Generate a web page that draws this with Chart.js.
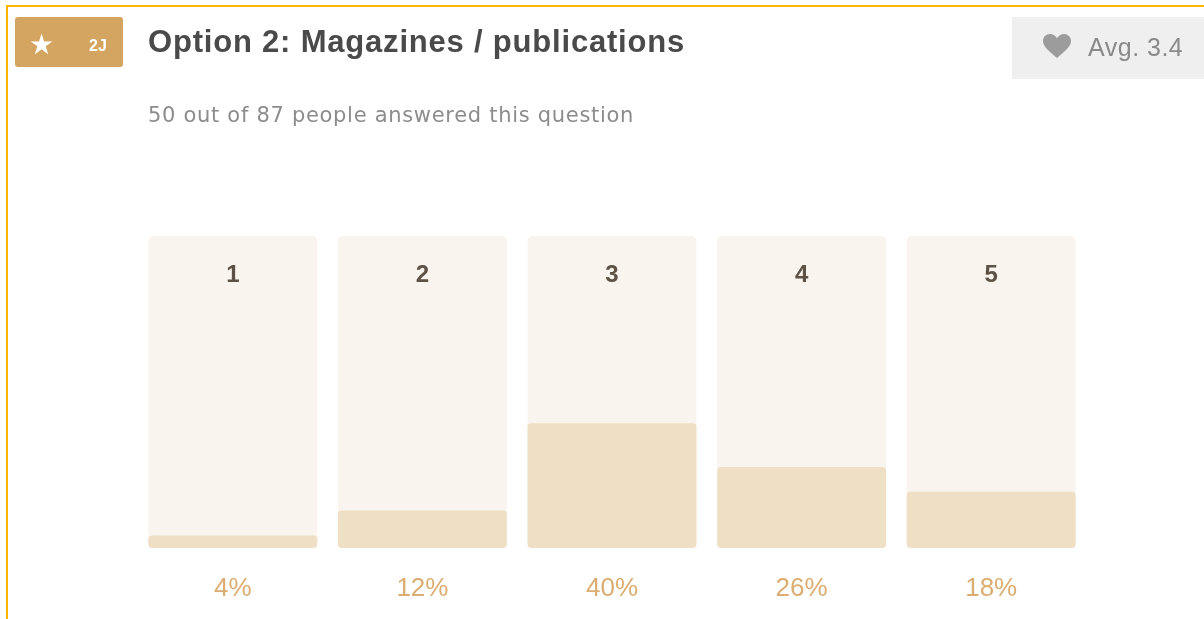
<!DOCTYPE html>
<html>
<head>
<meta charset="utf-8">
<script src="https://cdn.jsdelivr.net/npm/chart.js@4"></script>
<style>
  html, body { margin: 0; padding: 0; background: #fff; }
  body { width: 1204px; height: 619px; position: relative; overflow: hidden; font-family: "Liberation Sans", Arial, sans-serif; }
  #frame { position: absolute; left: 6px; top: 5px; width: 1300px; height: 700px; border-left: 2px solid #ffb400; border-top: 2px solid #ffb400; }
  #chartWrap { position: absolute; left: 0; top: 0; width: 1204px; height: 619px; }
  .badge { position: absolute; left: 15px; top: 17px; width: 108px; height: 50px; background: #d4a560; border-radius: 3px; color: #fff; }
  .badge .star { position: absolute; left: 14px; top: 13px; font-size: 28px; line-height: 30px; }
  .badge .num { position: absolute; left: 74px; top: 20px; font-size: 16px; font-weight: bold; line-height: 18px; }
  .title { position: absolute; left: 148px; top: 23px; font-size: 31px; font-weight: bold; color: #4a4a4a; line-height: 38px; letter-spacing: 0.8px; }
  .sub { position: absolute; left: 148px; top: 101px; font-family: "DejaVu Sans", sans-serif; font-size: 21px; color: #8c8c8c; line-height: 28px; letter-spacing: 0.7px; }
  .avg { position: absolute; left: 1012px; top: 17px; width: 200px; height: 62px; background: #efefef; color: #8a8a8a; }
  .avg svg { position: absolute; left: 31px; top: 17px; }
  .avg .txt { position: absolute; left: 76px; top: 15px; font-size: 25px; line-height: 30px; letter-spacing: 0.5px; }
</style>
</head>
<body>
<div id="chartWrap"><canvas id="barChart" width="1204" height="619"></canvas></div>
<div id="frame"></div>
<div class="badge"><span class="star">★</span><span class="num">2J</span></div>
<div class="title">Option 2: Magazines / publications</div>
<div class="sub">50 out of 87 people answered this question</div>
<div class="avg">
  <svg width="28" height="25" viewBox="0 0 28 25"><path d="M14 24 C6 17 0 12.5 0 7 C0 3 3 0 7 0 C10 0 12.5 1.8 14 4.2 C15.5 1.8 18 0 21 0 C25 0 28 3 28 7 C28 12.5 22 17 14 24 Z" fill="#9c9c9c"/></svg>
  <span class="txt">Avg. 3.4</span>
</div>
<script>
// ─── DATA ───
const RATINGS = ['1', '2', '3', '4', '5'];
const PERCENTS = [4, 12, 40, 26, 18];
const TRACK = [100, 100, 100, 100, 100];

// draws rating inside the track and percentage beneath it
const labelPlugin = {
  id: 'ratingLabels',
  afterDatasetsDraw(chart) {
    const { ctx, scales: { x, y } } = chart;
    ctx.save();
    ctx.textAlign = 'center';
    ctx.textBaseline = 'middle';
    RATINGS.forEach((r, i) => {
      const cx = x.getPixelForValue(i);
      ctx.font = 'bold 24px "Liberation Sans", Arial, sans-serif';
      ctx.fillStyle = '#5e5246';
      ctx.fillText(r, cx, y.getPixelForValue(100) + 39);
      ctx.font = '26px "Liberation Sans", Arial, sans-serif';
      ctx.fillStyle = '#dcad70';
      ctx.fillText(PERCENTS[i] + '%', cx, y.getPixelForValue(0) + 41);
    });
    ctx.restore();
  },
};

new Chart(document.getElementById('barChart').getContext('2d'), {
  type: 'bar',
  data: {
    labels: RATINGS,
    datasets: [
      { label: 'Share', data: PERCENTS, backgroundColor: '#efdfc5', borderRadius: 4, borderSkipped: false, order: 0 },
      { label: 'Track', data: TRACK, backgroundColor: '#f9f4ee', borderRadius: 5, borderSkipped: false, order: 1 },
    ],
  },
  options: {
    responsive: false, animation: false,
    layout: { padding: { left: 138, right: 118, top: 236, bottom: 71 } },
    datasets: { bar: { grouped: false, barPercentage: 0.891, categoryPercentage: 1 } },
    plugins: { legend: { display: false }, tooltip: { enabled: false } },
    scales: {
      x: { display: false },
      y: { display: false, min: 0, max: 100 },
    },
  },
  plugins: [labelPlugin],
});
</script>
</body>
</html>
